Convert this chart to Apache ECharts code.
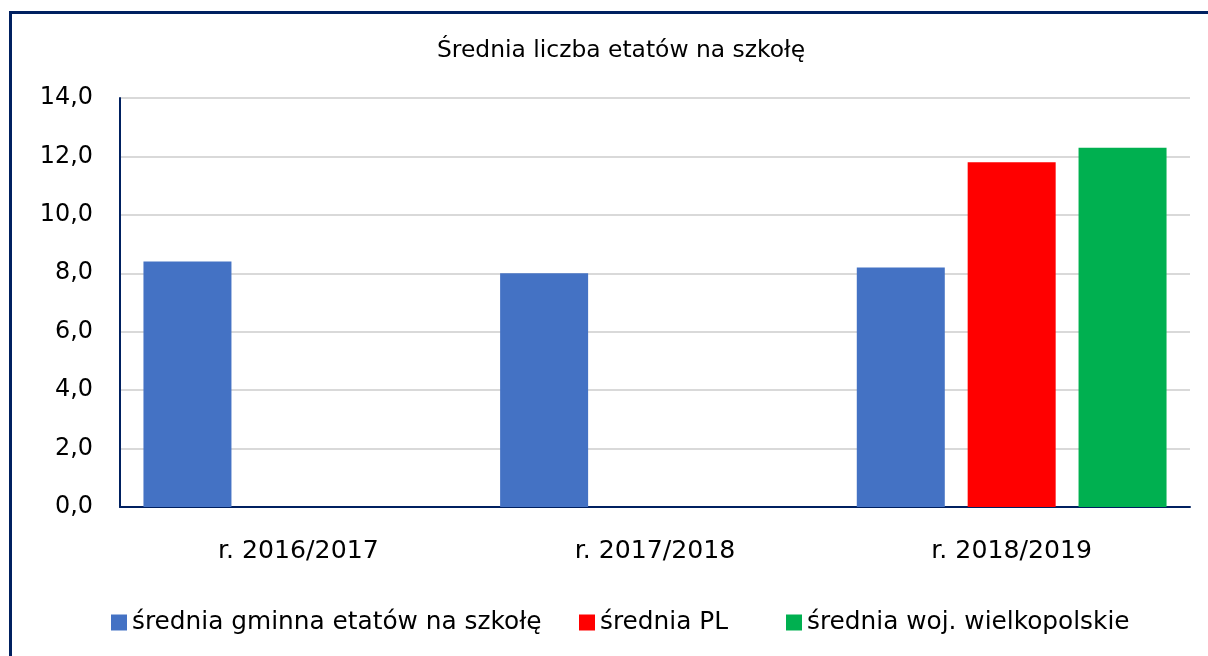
<!DOCTYPE html>
<html><head><meta charset="utf-8">
<script src="https://cdn.jsdelivr.net/npm/echarts@6/dist/echarts.min.js"></script>
<style>html,body{margin:0;padding:0;background:#fff}#c{width:1208px;height:656px}</style>
</head><body><div id="c"></div>
<script>
const title = 'Średnia liczba etatów na szkołę';
const categories = ['r. 2016/2017', 'r. 2017/2018', 'r. 2018/2019'];
const seriesNames = ['średnia gminna etatów na szkołę', 'średnia PL', 'średnia woj. wielkopolskie'];
const gminaValues = [8.4, 8.0, 8.2];
const plValues = [null, null, 11.8];
const wojValues = [null, null, 12.3];
const colors = ['#4472C4', '#FF0000', '#00B050'];
const yTicks = {min: 0, max: 14, interval: 2};

const FONT = '"DejaVu Sans", sans-serif';
const legendLefts = [111, 579, 786];
const chart = echarts.init(document.getElementById('c'), null, {renderer: 'canvas'});
const mk = (name, data, i) => ({
  name, type: 'bar', data, barWidth: 88, barGap: '26%',
  itemStyle: {color: colors[i]}
});
chart.setOption({
  animation: false,
  textStyle: {fontFamily: FONT},
  title: {text: title, left: 432, top: 34,
    textStyle: {fontFamily: FONT, fontSize: 23.4, fontWeight: 'normal', color: '#000'}},
  graphic: [{type: 'rect', shape: {x: 10.5, y: 12.5, width: 1400, height: 900},
    style: {fill: 'none', stroke: '#002060', lineWidth: 3}, silent: true}],
  grid: {left: 120, right: 18, top: 98, bottom: 149},
  legend: seriesNames.map((n, i) => ({
    top: 610, left: legendLefts[i], padding: 0, itemWidth: 16, itemHeight: 16,
    icon: 'rect', textStyle: {fontFamily: FONT, fontSize: 24.8, color: '#000'},
    data: [n]})),
  xAxis: {type: 'category', data: categories,
    axisLine: {lineStyle: {color: '#002060', width: 2}}, axisTick: {show: false},
    axisLabel: {fontFamily: FONT, fontSize: 25.2, color: '#000', margin: 32}},
  yAxis: {type: 'value', min: yTicks.min, max: yTicks.max, interval: yTicks.interval,
    axisLine: {show: true, lineStyle: {color: '#002060', width: 2}}, axisTick: {show: false},
    splitLine: {lineStyle: {color: '#D9D9D9', width: 2}},
    axisLabel: {fontFamily: FONT, fontSize: 23.9, color: '#000', margin: 27,
      formatter: v => v.toFixed(1).replace('.', ',')}},
  series: [mk(seriesNames[0], gminaValues, 0), mk(seriesNames[1], plValues, 1), mk(seriesNames[2], wojValues, 2)]
});
</script></body></html>
